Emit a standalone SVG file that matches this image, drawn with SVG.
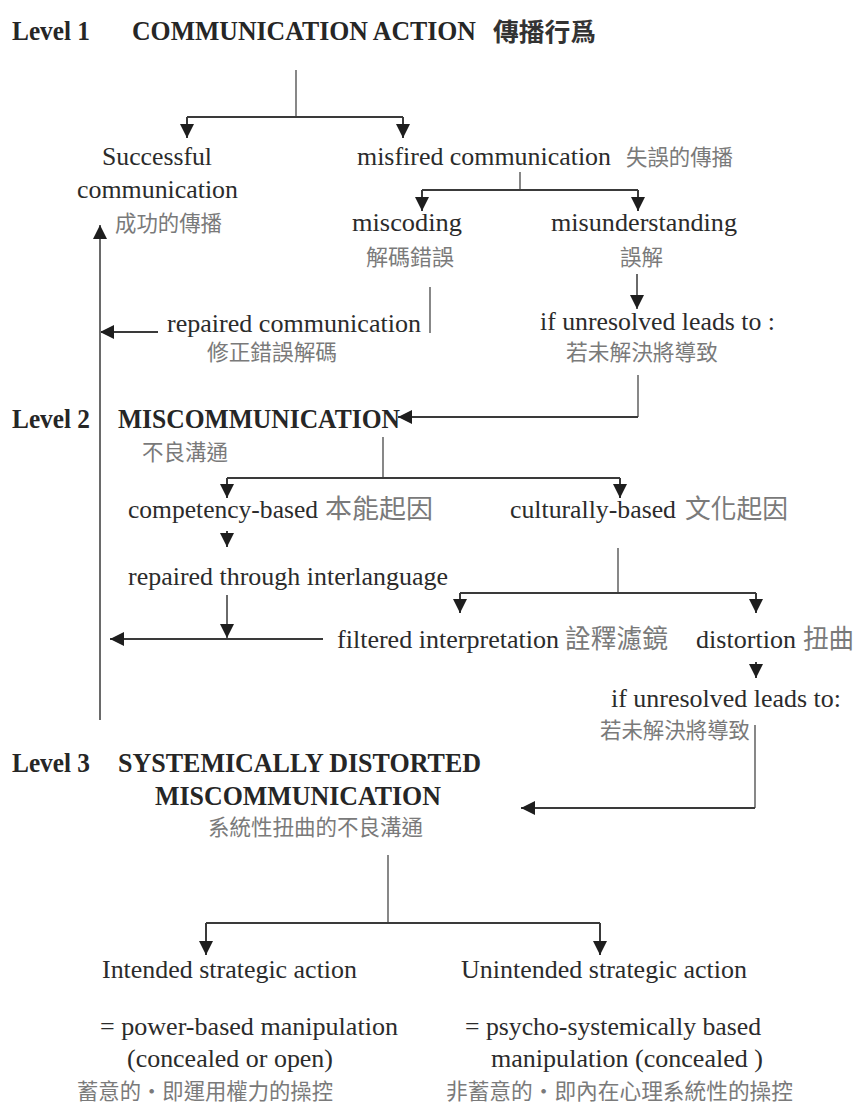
<svg xmlns="http://www.w3.org/2000/svg" width="858" height="1104" viewBox="0 0 858 1104">
<style>
.en{font-family:"Liberation Serif","Times New Roman",serif;font-size:26px;fill:#2b2b2b}
.b{font-weight:bold;font-size:26.5px;fill:#262626}
.zh{font-family:"Noto Sans CJK TC","Noto Sans CJK SC",sans-serif;font-size:21.5px;fill:#7a7a7a}
.zhl{font-size:26px}
.zhb{font-weight:bold;font-size:25.5px;fill:#333}
.ln{fill:none;stroke:#3a3a3a;stroke-width:2}
.lg{fill:none;stroke:#6a6a6a;stroke-width:1.6}
.ar{fill:none;stroke:#3a3a3a;stroke-width:2;marker-end:url(#ah)}
.arg{fill:none;stroke:#6a6a6a;stroke-width:2;marker-end:url(#ah)}
</style>
<defs>
<marker id="ah" viewBox="0 0 10 10" refX="10" refY="5" markerUnits="userSpaceOnUse" markerWidth="18" markerHeight="14" orient="auto">
<path d="M0,0 L10,5 L0,10 Z" fill="#1e1e1e"/>
</marker>
</defs>
<rect width="858" height="1104" fill="#fff"/>

<g id="connectors">
<path class="lg" d="M296,70 V117"/>
<path class="ln" d="M187,117 H403"/>
<path class="ar" d="M187,117 V138"/>
<path class="ar" d="M403,117 V138"/>

<path class="lg" d="M520,172 V190"/>
<path class="ln" d="M422,190 H638"/>
<path class="ar" d="M422,190 V211"/>
<path class="ar" d="M638,190 V211"/>

<path class="arg" d="M637,274 V309"/>
<path class="lg" d="M430,287 V333"/>
<path class="ar" d="M158,332 H100"/>

<path class="arg" d="M100,720 V225"/>

<path class="lg" d="M638,375 V417"/>
<path class="ar" d="M638,417 H398"/>

<path class="lg" d="M383,437 V478"/>
<path class="ln" d="M227,478 H620"/>
<path class="ar" d="M227,478 V498"/>
<path class="ar" d="M620,478 V498"/>

<path class="ar" d="M227,531 V547"/>

<path class="lg" d="M618,548 V593"/>
<path class="ln" d="M460,593 H756"/>
<path class="ar" d="M460,593 V613"/>
<path class="ar" d="M756,593 V613"/>

<path class="arg" d="M227,595 V638"/>
<path class="ar" d="M323,639 H110"/>

<path class="ar" d="M756,662 V678"/>

<path class="lg" d="M755,725 V808"/>
<path class="ar" d="M755,808 H521"/>

<path class="lg" d="M388,855 V923"/>
<path class="ln" d="M206,923 H600"/>
<path class="ar" d="M206,923 V955"/>
<path class="ar" d="M600,923 V955"/>
</g>

<g id="level1">
<text class="en b" x="12" y="40" textLength="78" lengthAdjust="spacingAndGlyphs">Level 1</text>
<text class="en b" x="132" y="40" textLength="344" lengthAdjust="spacingAndGlyphs">COMMUNICATION ACTION</text>
<text class="zh zhb" x="493" y="41" textLength="103" lengthAdjust="spacingAndGlyphs">傳播行爲</text>
</g>

<g id="successful">
<text class="en" x="102" y="165" textLength="110" lengthAdjust="spacingAndGlyphs">Successful</text>
<text class="en" x="77" y="198" textLength="161" lengthAdjust="spacingAndGlyphs">communication</text>
<text class="zh" x="115" y="231" textLength="107" lengthAdjust="spacingAndGlyphs">成功的傳播</text>
</g>

<g id="misfired">
<text class="en" x="357" y="165" textLength="254" lengthAdjust="spacingAndGlyphs">misfired communication</text>
<text class="zh" x="626" y="165" textLength="107" lengthAdjust="spacingAndGlyphs">失誤的傳播</text>
</g>

<g id="miscoding">
<text class="en" x="352" y="231" textLength="110" lengthAdjust="spacingAndGlyphs">miscoding</text>
<text class="zh" x="366" y="265" textLength="88" lengthAdjust="spacingAndGlyphs">解碼錯誤</text>
</g>

<g id="misunderstanding">
<text class="en" x="551" y="231" textLength="186" lengthAdjust="spacingAndGlyphs">misunderstanding</text>
<text class="zh" x="620" y="265" textLength="43" lengthAdjust="spacingAndGlyphs">誤解</text>
</g>

<g id="repaired">
<text class="en" x="167" y="332" textLength="254" lengthAdjust="spacingAndGlyphs">repaired communication</text>
<text class="zh" x="207" y="360" textLength="130" lengthAdjust="spacingAndGlyphs">修正錯誤解碼</text>
</g>

<g id="unresolved1">
<text class="en" x="540" y="330" textLength="235" lengthAdjust="spacingAndGlyphs">if unresolved leads to :</text>
<text class="zh" x="566" y="360" textLength="152" lengthAdjust="spacingAndGlyphs">若未解決將導致</text>
</g>

<g id="level2">
<text class="en b" x="12" y="428" textLength="78" lengthAdjust="spacingAndGlyphs">Level 2</text>
<text class="en b" x="118" y="428" textLength="282" lengthAdjust="spacingAndGlyphs">MISCOMMUNICATION</text>
<text class="zh" x="142" y="460" textLength="86" lengthAdjust="spacingAndGlyphs">不良溝通</text>
</g>

<g id="competency">
<text class="en" x="128" y="518" textLength="190" lengthAdjust="spacingAndGlyphs">competency-based</text>
<text class="zh zhl" x="325" y="518" textLength="108" lengthAdjust="spacingAndGlyphs">本能起因</text>
</g>

<g id="culturally">
<text class="en" x="510" y="518" textLength="166" lengthAdjust="spacingAndGlyphs">culturally-based</text>
<text class="zh zhl" x="685" y="518" textLength="103" lengthAdjust="spacingAndGlyphs">文化起因</text>
</g>

<g id="interlanguage">
<text class="en" x="128" y="585" textLength="320" lengthAdjust="spacingAndGlyphs">repaired through interlanguage</text>
</g>

<g id="filtered">
<text class="en" x="337" y="648" textLength="222" lengthAdjust="spacingAndGlyphs">filtered interpretation</text>
<text class="zh zhl" x="565" y="648" textLength="103" lengthAdjust="spacingAndGlyphs">詮釋濾鏡</text>
</g>

<g id="distortion">
<text class="en" x="696" y="648" textLength="100" lengthAdjust="spacingAndGlyphs">distortion</text>
<text class="zh zhl" x="803" y="648" textLength="51" lengthAdjust="spacingAndGlyphs">扭曲</text>
</g>

<g id="unresolved2">
<text class="en" x="611" y="707" textLength="230" lengthAdjust="spacingAndGlyphs">if unresolved leads to:</text>
<text class="zh" x="600" y="738" textLength="150" lengthAdjust="spacingAndGlyphs">若未解決將導致</text>
</g>

<g id="level3">
<text class="en b" x="12" y="772" textLength="78" lengthAdjust="spacingAndGlyphs">Level 3</text>
<text class="en b" x="118" y="772" textLength="363" lengthAdjust="spacingAndGlyphs">SYSTEMICALLY DISTORTED</text>
<text class="en b" x="155" y="805" textLength="286" lengthAdjust="spacingAndGlyphs">MISCOMMUNICATION</text>
<text class="zh" x="208" y="835" textLength="215" lengthAdjust="spacingAndGlyphs">系統性扭曲的不良溝通</text>
</g>

<g id="intended">
<text class="en" x="102" y="978" textLength="255" lengthAdjust="spacingAndGlyphs">Intended strategic action</text>
<text class="en" x="100" y="1035" textLength="298" lengthAdjust="spacingAndGlyphs">= power-based manipulation</text>
<text class="en" x="127" y="1067" textLength="206" lengthAdjust="spacingAndGlyphs">(concealed or open)</text>
<text class="zh" x="77" y="1099" font-size="20" textLength="256" lengthAdjust="spacingAndGlyphs">蓄意的・即運用權力的操控</text>
</g>

<g id="unintended">
<text class="en" x="461" y="978" textLength="286" lengthAdjust="spacingAndGlyphs">Unintended strategic action</text>
<text class="en" x="465" y="1035" textLength="296" lengthAdjust="spacingAndGlyphs">= psycho-systemically based</text>
<text class="en" x="491" y="1067" textLength="272" lengthAdjust="spacingAndGlyphs">manipulation (concealed )</text>
<text class="zh" x="446" y="1099" font-size="20" textLength="347" lengthAdjust="spacingAndGlyphs">非蓄意的・即內在心理系統性的操控</text>
</g>
</svg>
